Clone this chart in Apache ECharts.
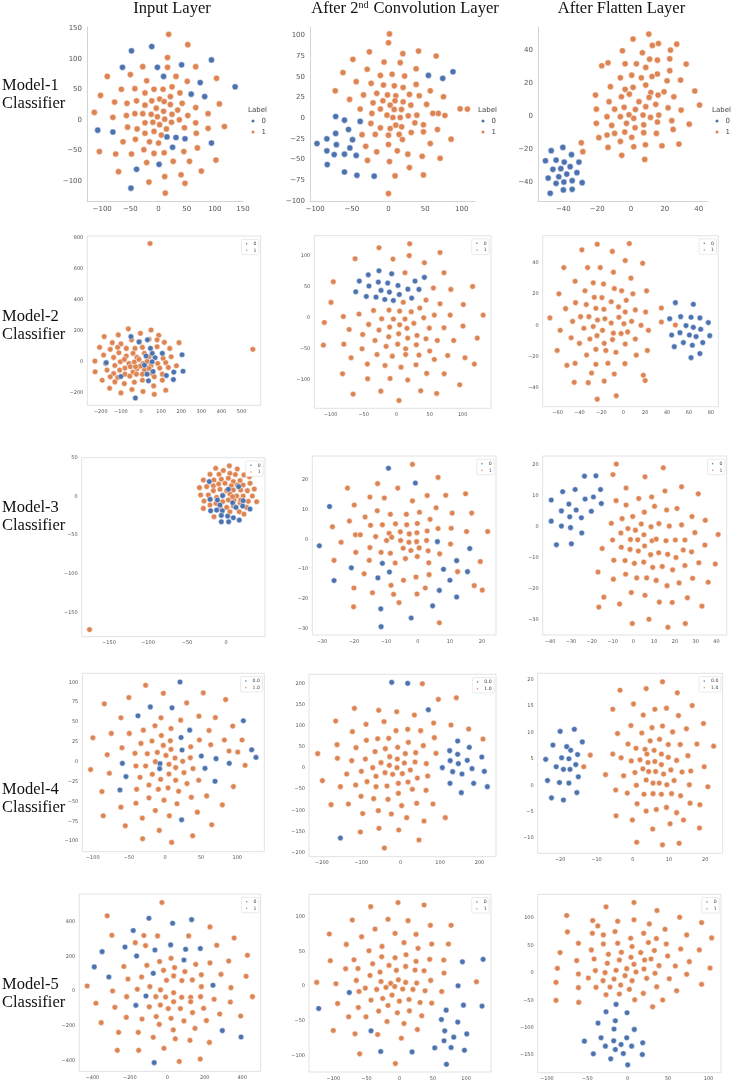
<!DOCTYPE html>
<html><head><meta charset="utf-8">
<script src="https://cdn.jsdelivr.net/npm/echarts@6/dist/echarts.min.js"></script>
<style>html,body{margin:0;padding:0;background:#fff}#c{width:733px;height:1082px}</style>
</head><body><div id="c"></div>
<script>
// ---------- texts ----------
const columnTitles = ['Input Layer', 'After 2{sup|nd} Convolution Layer', 'After Flatten Layer'];
const rowTitles = ['Model-1', 'Model-2', 'Model-3', 'Model-4', 'Model-5'];
const rowSubtitle = 'Classifier';
const legendNamesDefault = ['0', '1'];
const legendNamesModel4 = ['0.0', '1.0'];
const legendTitle = 'Label';

// ---------- tick labels ----------
const m1InX = [-100,-50,0,50,100,150], m1InY = [-100,-50,0,50,100,150];
const m1CvX = [-100,-50,0,50,100], m1CvY = [-100,-75,-50,-25,0,25,50,75,100];
const m1FlX = [-40,-20,0,20,40], m1FlY = [-40,-20,0,20,40];
const m2InX = [-200,-100,0,100,200,300,400,500], m2InY = [-200,0,200,400,600,800];
const m2CvX = [-100,-50,0,50,100], m2CvY = [-100,-50,0,50,100];
const m2FlX = [-60,-40,-20,0,20,40,60,80], m2FlY = [-40,-20,0,20,40];
const m3InX = [-150,-100,-50,0], m3InY = [-150,-100,-50,0,50];
const m3CvX = [-30,-20,-10,0,10,20], m3CvY = [-30,-20,-10,0,10,20];
const m3FlX = [-40,-30,-20,-10,0,10,20,30,40], m3FlY = [-30,-20,-10,0,10,20];
const m4InX = [-100,-50,0,50,100], m4InY = [-100,-75,-50,-25,0,25,50,75,100];
const m4CvX = [-200,-100,0,100,200], m4CvY = [-200,-150,-100,-50,0,50,100,150,200];
const m4FlX = [-20,-10,0,10,20], m4FlY = [-10,-5,0,5,10,15,20];
const m5InX = [-400,-200,0,200,400], m5InY = [-400,-200,0,200,400];
const m5CvX = [-100,-50,0,50,100], m5CvY = [-100,-50,0,50,100];
const m5FlX = [-100,-50,0,50,100], m5FlY = [-150,-100,-50,0,50,100];

// ---------- data (label 0 = blue, label 1 = orange) ----------
const m1InBlue = [[-48,113],[-12,120],[-64,86],[-2,86],[9,71],[41,90],[94,98],[74,61],[58,42],[82,38],[136,54],[-108,-17],[-81,-20],[15,-28],[31,-29],[47,-31],[25,-45],[94,-38],[1,-73],[-39,-81],[-49,-112]];
const m1InOrange = [[18,140],[52,123],[16,102],[-28,87],[66,87],[16,86],[-91,71],[-50,74],[-21,64],[31,71],[51,63],[103,68],[-103,40],[-66,50],[-42,51],[-8,50],[8,50],[24,54],[-24,44],[38,44],[-78,29],[-56,27],[-39,31],[-12,31],[2,34],[10,30],[21,38],[42,27],[66,20],[108,26],[-114,12],[-81,4],[-57,7],[-42,10],[-24,24],[-28,10],[-13,9],[-4,19],[9,14],[21,25],[34,16],[52,7],[-2,5],[11,1],[24,9],[88,10],[-55,-12],[-38,-15],[-24,-5],[-10,-4],[2,-8],[14,-15],[23,-4],[37,0],[46,-13],[66,-5],[88,-14],[117,-11],[-24,-22],[-8,-19],[5,-25],[67,-22],[-63,-36],[-41,-32],[-16,-36],[0,-38],[-105,-52],[-76,-56],[-48,-56],[-26,-49],[-8,-55],[10,-54],[45,-52],[69,-46],[-21,-70],[26,-68],[55,-68],[102,-66],[-71,-85],[40,-90],[76,-84],[-17,-102],[11,-93],[47,-104],[12,-120]];

const m1CvBlue = [[-97.5,-30.6],[-72,2],[-60,-2.4],[-72,-18.5],[-84,-25],[-71,-32],[-54.5,-13.7],[-49,-26],[-38.6,-4],[-84,-39.5],[-74,-44],[-60,-43.5],[-52.6,-36],[-44,-45],[-83.5,-56],[-60,-65],[-43,-69],[54.5,51.6],[74,48],[88,56],[-19.5,-70]];
const m1CvOrange = [[-26,80],[-48.5,71],[-62,55],[-29,59],[-44,44],[-34,28],[-72.6,33],[-53,22.6],[-38.6,11],[-36,-20],[-31,-34],[-28.6,-51],[1.4,101.6],[0,91],[19.6,77.8],[41,81],[65,75],[-6,67.7],[16,67],[37.7,59.6],[-11,51.6],[5,53],[22,50.8],[-23.6,42],[-6.8,40],[8,39],[20,37],[37.7,40.7],[57,33],[75,25.8],[-16,30],[-1.4,28],[10,27],[28.6,28.6],[42,27],[-21,18.5],[-7.6,21],[2.3,15.7],[9,21],[20,19.7],[30.5,15.7],[52,16.6],[68,5.7],[97.7,11.2],[107.6,10.9],[-22.6,5.7],[-11,11],[-2,3.6],[7.8,10.5],[17.7,10.5],[6,0.8],[16,0.8],[27,2.8],[38.7,3.6],[60.5,5.7],[77,3.2],[-24,-6.4],[-11,-11.7],[2.3,-12.5],[10,-8.5],[18,-10.5],[36,-5.7],[47.7,-8],[66.8,-13.7],[-18,-19.7],[0,-20.6],[14.6,-19.7],[31,-17.3],[47.7,-16.5],[85.4,-25.4],[-16,-40.7],[0,-31.8],[12,-39.5],[19,-25.8],[26.4,-43.5],[46,-46],[57,-30.6],[70.4,-48.4],[1.4,-52.4],[28.6,-59.6],[9,-69.7],[47.7,-68.5],[0,-91]];

const m1FlBlue = [[-47.2,-21.2],[-40.3,-19.2],[-50.6,-27.3],[-44.3,-26.9],[-39.5,-28.1],[-35.2,-23.6],[-30.8,-28.1],[-46.2,-32.5],[-41.5,-32.1],[-36,-30.9],[-32,-34.5],[-42.7,-37],[-38,-35.4],[-49,-37.8],[-44.3,-41],[-39.7,-40.2],[-34.8,-39.4],[-28.9,-40.6],[-40,-45],[-34.8,-44.6],[-47.8,-47]];
const m1FlOrange = [[10.5,49.5],[1.2,46.5],[12.6,42.6],[16.2,43.8],[27,43.4],[23.3,39.8],[-5.1,39.4],[6.7,38.2],[15.6,33.7],[11,34.3],[22.9,34.5],[32.6,31.3],[-17.3,30.3],[-13.6,32.1],[-3.5,31.5],[3.2,31.5],[8.7,29.3],[22.9,27.3],[29.3,21.6],[-6.3,23],[0.4,24.6],[6.1,23],[12.4,23.8],[15.6,25.3],[21.3,21.2],[-12.2,17.6],[-3.5,16],[1.2,17.2],[8.7,18.6],[11.7,14.1],[19.5,14.5],[37.7,15],[40.5,6.5],[-21,12.5],[-5.7,11.5],[-1,13.1],[4.7,8.5],[10.7,11.1],[16,12.5],[25.3,11.5],[-20.5,4],[-13,8.5],[-9.7,4],[-4.1,5.1],[2.6,3.8],[8.7,5.5],[14.6,6.9],[21.9,4.8],[29.6,3.4],[-14.2,-0.6],[-6.3,-0.6],[-1.2,0.6],[1.6,-1.6],[7.1,0.4],[11.5,-1],[16.4,0.4],[-20.5,-4.6],[-11.4,-5.9],[-2.7,-4.6],[2.4,-7.3],[7.5,-5.5],[15.6,-3.8],[24.1,-3],[34.4,-5.1],[-19,-13.3],[-14.2,-11.7],[-9.7,-10.7],[-3.7,-9.9],[0.4,-13.1],[7.5,-10.3],[15,-10.7],[24.9,-8.3],[-13.6,-19.2],[-6.3,-15.6],[1.6,-18.8],[8.5,-17.6],[18.3,-18.2],[28.3,-17.2],[-29.4,-16.4],[-28.5,-21.8],[-5.5,-24],[8.1,-26.5]];

const m2InBlue = [[-50,162],[-10,128],[32,141],[47,86],[106,54],[56,54],[25,37],[70,26],[-173,-6],[17,-22],[55,0],[204,45],[209,-61],[163,-67],[126,-89],[30,-80],[161,-115],[37,-123],[-100,-95],[-28,-234],[60,-63]];
const m2InOrange = [[45,763],[556,80],[-63,212],[50,205],[-3,184],[-113,173],[-183,162],[88,171],[-143,123],[-100,115],[-47,141],[-7,130],[40,145],[80,141],[116,125],[189,123],[-206,93],[-153,80],[-116,93],[-73,86],[-30,86],[7,93],[80,97],[143,86],[-186,43],[-136,28],[-110,58],[-73,37],[-40,54],[-20,28],[17,54],[40,32],[110,22],[150,32],[-229,4],[-176,-11],[-130,-24],[-103,0],[-83,15],[-60,-11],[-33,-2],[-10,15],[10,-11],[30,2],[50,-24],[83,-11],[123,-6],[176,-26],[-228,-65],[-169,-54],[-136,-76],[-106,-54],[-80,-41],[-53,-32],[-40,-67],[-20,-45],[-3,-28],[17,-54],[40,-43],[56,-76],[93,-41],[136,-37],[-193,-119],[-153,-97],[-116,-102],[-80,-80],[-56,-93],[-23,-80],[7,-80],[66,-97],[106,-80],[-130,-130],[-83,-141],[-33,-132],[7,-119],[63,-156],[106,-119],[-156,-171],[-100,-201],[-45,-179],[10,-192],[66,-210],[123,-184],[-27,-32]];

const m2CvBlue = [[-26.8,75.6],[-7.6,70.8],[-43,69],[-56.6,59],[-27.8,57.4],[-13.6,55.8],[2,52],[27.8,59],[42,65],[-62,41.8],[-42,51],[-23.7,44],[-11,41.3],[4,37.5],[17,46],[33.8,45.6],[-46,34.3],[-31.3,33.2],[-18,29.5],[-5,27.9],[22.7,31.6]];
const m2CvOrange = [[19.7,119],[-26.8,112.6],[19,100],[65.7,105],[-63,95],[-5.6,94.4],[42,88.5],[12.6,72.4],[71.7,72.4],[-96,58],[55.6,48],[82,45.6],[115,50.4],[-99.5,24.7],[10,25],[44.4,28.4],[65.7,22.5],[101,21.4],[-109.6,-7.5],[-80.8,2],[-57,6],[-35,11.8],[-11.6,12.3],[4.5,10.7],[22,9.7],[35,15.6],[-22.7,-1.6],[-5,-2],[12.6,-2],[41,0],[57,4.3],[81,4.3],[131,4.3],[-72,-18.8],[-42.4,-10.7],[-26.8,-19.8],[-10.6,-15],[4.5,-11.3],[15.6,-17],[26,-9],[49.5,-16.6],[71.7,-16],[100.5,-13.4],[-51.5,-26.8],[-32.8,-36.5],[-12,-30.5],[3,-25.7],[16.7,-32.7],[30.8,-28.4],[44.4,-33.8],[61.6,-36.5],[86.4,-36.5],[122,-32.7],[-111,-44],[-80,-42.4],[-52.5,-50],[-16,-46],[1.5,-42.4],[13.6,-50],[29.8,-43.4],[-29.8,-59],[-6.6,-61.7],[13.6,-59],[33.8,-60],[50,-53.6],[57,-67],[77.3,-60.6],[103.5,-64.3],[-69,-64.3],[-44.4,-74.5],[-17.7,-76.7],[6.6,-79.4],[29.3,-75.6],[117.7,-74.5],[-82,-90],[-44,-98],[-10,-97.6],[16.7,-100],[45.5,-89.5],[72,-90],[95.5,-107.8],[-66,-122.8],[-24,-118],[36.4,-117.4],[60.6,-121.7],[3.5,-133]];

const m2FlBlue = [[47.6,14.4],[64,13.4],[42.4,4.2],[52.4,5.5],[61.9,5.1],[70,4.7],[77.7,1.7],[57.3,-0.2],[64,-1.3],[70.7,-2.5],[44.2,-6.2],[51.8,-4.7],[60.4,-6.2],[66.5,-7.2],[79,-6.6],[46.6,-13.6],[54.9,-11],[63.1,-12.7],[72.6,-11],[61.9,-20.6],[70,-18]];
const m2FlOrange = [[-23.8,51.6],[5.5,52],[-37.8,48],[-10,47],[-54.3,36.7],[-32.6,36.7],[-21,36.7],[1.8,41.2],[17.7,39.5],[-9,33.8],[7,30],[-44,28],[-27.4,27],[-18,26.3],[-35,22],[-8.2,23.4],[-1.5,22],[8.8,20],[21.3,21.9],[-58.8,20],[-26.5,17.8],[-19.5,17.6],[-11,15],[2.7,15.9],[-43.6,14.4],[-33.8,13.2],[-25,10.8],[-17.7,10.2],[-4.3,11.7],[1.8,8.5],[11,9.8],[20.4,8.5],[34.8,11],[-52.7,10.6],[-67,4.7],[-39,5.5],[-31.4,5.5],[-23.5,3.4],[-16.8,4.2],[-11,1.5],[-4,5.1],[0.6,1],[7.6,2.5],[16.2,0],[34.8,2.1],[47.6,0.2],[-46.3,2.5],[-36,-1.9],[-27.4,-0.8],[-19,-3.2],[-9,-5],[-2,-5.3],[4,-4.2],[23,-3.2],[-57.6,-3.2],[-47.6,-8],[-30.5,-8.7],[-24,-6.6],[-17.4,-11.5],[-9.8,-9.1],[1.8,-11.9],[11,-8.7],[-40,-11.5],[-60.4,-16],[-33.5,-18.9],[-25,-15.3],[-15.9,-16],[-6.7,-17.2],[11.9,-19],[22,-16],[-51.5,-25.5],[-44,-24.2],[-25,-24.8],[-14,-24.2],[1.5,-24.4],[-29,-30.4],[-8.2,-31],[18.3,-31.8],[20,-35.2],[-44.8,-36.3],[-32,-36.5],[-17.4,-35.5],[-6.4,-44.8],[-23.8,-47]];

const m3InBlue = [[-21.4,19.6],[16.2,13],[3,9.6],[-4.3,1.3],[-20.5,-3.5],[-11,-4.3],[22,-5.2],[8.5,-7.8],[-7.7,-10.9],[12.8,-13.9],[30.8,-16],[-19.7,-18.3],[-12,-17.4],[-4.7,-18.3],[21.4,-12.2],[2.1,-25.2],[9.4,-27.4],[-6,-24.3],[17,-30.4],[-6,-32.6],[3.4,-32.6]];
const m3InOrange = [[-175,-172.6],[4.3,40],[14.5,36],[-13.2,37],[-3.4,34],[23,28.3],[30,26],[-20.5,29],[-9,29],[5,30.4],[12,28.7],[-29,21.7],[-15.4,21.7],[-6,22.6],[3,24],[9.4,19.6],[18,20.9],[30.8,17.4],[-34,11.7],[-24.8,13],[-16.2,14],[-9.4,16.5],[-1.3,17.4],[6.8,14],[14.5,15.2],[22,15.2],[36.3,10],[-32.5,2.2],[-22.6,2.2],[-16.2,7.8],[-7.7,9.6],[0.9,7.8],[9.4,8.7],[18.8,8.7],[27.4,7.8],[33.8,0.9],[-28.2,-5.7],[-19.7,-3.5],[-12,-0.9],[-4.3,2.2],[5,3.5],[13.7,0.9],[22,0.9],[39.3,-6.5],[-20.5,-10.9],[-12.8,-8.7],[-4.3,-6.5],[3,-4.3],[10.3,-4.3],[18,-7.8],[28.6,-6.1],[-29,-15.2],[-7.7,-13.9],[0.9,-13.9],[9.4,-12.2],[26.5,-13.9],[-15.4,-26],[5,-19.6],[17,-19.6],[23,-22.6],[8.5,0],[18.8,-4.3]];

const m3CvBlue = [[-9.2,23.9],[-0.8,18.9],[-27.6,11],[-30.8,-2.2],[6.1,-0.8],[16.2,-3.1],[12.1,-7.2],[15.5,-10.9],[8,-10.1],[10,-13.8],[-11.1,-8.1],[-8.9,-11],[-20.8,-9.6],[-26.2,-13.9],[-12.5,-13],[6.7,-17.2],[12.1,-19.4],[4.6,-22.4],[-11.6,-23.4],[-2.1,-26.5],[-11.5,-29.4]];
const m3CvOrange = [[-1.7,25.2],[6.3,20.8],[-22,17.2],[-12.6,18.7],[-6.3,17.2],[2.9,14.7],[8.7,14.8],[14.9,15.3],[-15,14.2],[-10.5,13.9],[-1.7,12.9],[-19.9,11.5],[5.7,10.6],[10.7,8.8],[16.8,8.8],[-16.5,7.5],[-12.7,9.6],[-8.6,8.4],[-3.6,8.4],[0.5,9.1],[3.8,6.7],[-21.4,6.1],[-26.7,4.2],[-14.8,4.7],[-11.1,4.9],[-7,5.2],[-3.5,4.9],[-0.2,5.3],[2.9,2.8],[6.3,3.6],[10.4,3.7],[15.2,2.6],[21.8,2.6],[-19.5,1.5],[-18,1.5],[-13.2,0.9],[-9,2],[-5.5,2.5],[-2.7,1.8],[-0.3,2.2],[-24,-1],[-9.8,-0.4],[-8.2,0.7],[-5.4,-0.4],[-2.8,-1],[-0.4,-0.8],[2.7,-0.4],[10.2,-1.6],[-19.4,-4.4],[-15,-2.8],[-11.5,-4.4],[-8.6,-4.7],[-4.6,-3],[-2.2,-3.8],[0.4,-2.9],[3.2,-3.9],[6.8,-4.9],[-26.2,-7.1],[-15.2,-7.1],[-7.1,-8],[-3.9,-6.5],[-0.2,-5.8],[3.4,-7.9],[19.5,-7.5],[-16.8,-11.6],[-4.5,-13.8],[-0.6,-12.7],[3.5,-11.9],[12.4,-10.9],[-8.4,-15.5],[-20,-16.4],[-14.2,-18],[-7.6,-18.5],[-0.3,-18.4],[2.3,-16.4],[17.6,-15.6],[20.1,-17.1],[-20.1,-22.7],[-5.9,-21.3],[6.7,-28.1]];

const m3FlBlue = [[-39.5,8.6],[-34,11.3],[-28,12],[-23.5,16.3],[-18,16.4],[-15.8,12],[-19.2,9.6],[-23.2,8.9],[-31,7.3],[-34.6,5.1],[-27.5,5.4],[-20.2,5],[-15.4,7.5],[-39.5,1.8],[-30.6,3.2],[-25,2.9],[-34.6,0.2],[-30.2,-0.3],[-24.8,-2],[-37,-5.8],[-29.8,-5.5]];
const m3FlOrange = [[-8.2,20.2],[14.4,19],[-9.8,16.8],[5.6,16.1],[-3.5,12.5],[15.2,11.5],[23.2,12.9],[31.2,10.6],[-8.3,8.4],[2.6,9.1],[8.8,9.6],[-3.5,7],[5.3,4.7],[10.2,6.6],[16,5.4],[21,5.9],[28.2,3.3],[34.6,2.1],[-5.4,2.6],[-0.3,3.3],[-10.6,1.1],[3.8,0.9],[8.5,0],[12.3,1],[17.3,0.2],[23.2,0.6],[-2.6,-0.6],[1,-1.1],[-6,-2],[5.1,-2.6],[29.6,-1.9],[40.8,-2.5],[-10,-4.3],[-1.4,-4.1],[2.1,-4.2],[9,-4.5],[11,-4],[15.7,-4.5],[20.2,-4.3],[24.8,-4.3],[-15,-7],[-5.8,-6.6],[-1.6,-7.3],[2.4,-7.8],[5.4,-6.2],[8.3,-9],[12.2,-8.4],[16.5,-8.9],[20.5,-9.9],[24,-7.5],[28,-8.1],[34.4,-5.9],[-9.4,-10.8],[-4,-10.9],[0.5,-11.8],[5,-11.4],[9.3,-13.1],[13.9,-12.8],[18.9,-13.9],[24.8,-12.5],[31.5,-11.6],[39.4,-12],[-17,-14.6],[-9.6,-16.9],[-3.7,-15.3],[1.6,-16.5],[6.4,-16.5],[11,-17.3],[16.2,-19],[22,-18.1],[28.5,-16.6],[36,-17.9],[-14.2,-22.7],[-16.6,-25.9],[-6.6,-24.9],[-1,-21.2],[5.6,-22.1],[12.5,-24.3],[18.7,-24.4],[26,-22.9],[33,-25.6],[-0.5,-31.2],[7.5,-29.8],[16.6,-32.4],[25,-31.2]];

const m4InBlue = [[20.8,100.4],[-20.3,69],[9.7,67.8],[-37.4,57.7],[108.5,51.5],[34.2,39.7],[22.2,30.5],[23.6,14.6],[120,15],[126,5.4],[50.3,7.1],[70.7,3.8],[-59,-2.1],[-6.9,-2.5],[-7.4,-8.8],[89,-2.1],[55.4,-8.4],[-54,-18.8],[69.3,-24.7],[-62.4,-35.6],[23,-73.2]];
const m4InOrange = [[-26.8,96.2],[-2.3,86.2],[53,86.6],[-50,80.8],[30,74],[84,78.2],[-84,72.8],[-5.5,55.2],[-61,55.2],[21.7,52.3],[47,57.3],[69.7,55.6],[93.8,44.8],[-30,39.7],[-13.9,45.2],[8.3,41.8],[-49.4,35.6],[-74.4,35.6],[61,39.3],[-99.8,30.1],[-33.3,23],[-18,26],[-5,33],[7.4,26.4],[47.6,27.2],[82.2,27.2],[106.7,27.2],[-59.6,17.6],[-2.3,20.5],[8.3,15.5],[35.6,18.8],[63.3,21.3],[88.7,13.4],[100.7,12.1],[-80,8.8],[-41.6,10.5],[-24.5,10],[-10.6,11.7],[1.4,7.9],[13.9,4.6],[24.5,0.4],[35.1,5],[-13.4,0],[-40.2,-5.4],[-26.8,-5.4],[5.5,-3.3],[14.8,-7.5],[26.3,-13.8],[38.8,-8.8],[110.9,-4.6],[-103,-10],[-77,-14.6],[-34.6,-19.7],[-17.6,-15.9],[-6,-22.2],[5.5,-15.5],[14.8,-23.4],[30.5,-27.6],[46.7,-23.4],[-39.3,-34.7],[-22.2,-29.3],[-9.2,-34.7],[4.2,-33],[18.9,-37.2],[57.7,-43.1],[94.7,-31.4],[-87.3,-37.7],[-40.2,-52.3],[-22.2,-45.6],[-1.4,-48.5],[16.6,-53.1],[36.5,-44.8],[-61,-57.3],[79.4,-54.4],[-13.4,-61.5],[44.8,-63.6],[-85.5,-68.2],[-31.4,-71.1],[6,-68.2],[-55,-80.8],[64.7,-79.5],[-7.9,-86.6],[38.3,-93.3],[-31,-97],[9.2,-101.7]];

const m4CvBlue = [[-22.8,202.8],[17.8,200.4],[70.2,138],[144.6,63.9],[124.3,41],[174.2,48.9],[144.6,32.3],[125.6,17.4],[169,18.1],[205.9,26],[146.3,10.3],[105.7,0.8],[181,-1.6],[131.9,-8.7],[155.6,-14.2],[212.3,-7.9],[125.2,-36.3],[185.2,-36.3],[219.9,-44.2],[153.9,-58.4],[-153,-165.7]];
const m4CvOrange = [[55,199.6],[95.6,162.5],[141.2,166.4],[-117.5,141.2],[-55.8,136.5],[-10.1,133.3],[34.7,125.4],[-165,111.2],[-42.3,109.7],[83.7,106.5],[-122.6,86],[-88,103.4],[-11.8,88.4],[17.8,91.5],[50.7,88.4],[127.7,101.8],[172.5,92.3],[-161.5,55.2],[-113.3,48.1],[-87.1,65.5],[-58.4,69.4],[-30.4,70.2],[19.5,60.7],[57.5,52.9],[85.4,71.8],[208.9,68.6],[-210.6,33.9],[-160.6,22.9],[-124.3,17.4],[-89.6,21.3],[-65.1,38.7],[-38.9,45.8],[-7.6,48.9],[11.8,33.9],[38.1,36.3],[89.7,34.7],[-27.9,26.8],[-8.5,21.3],[9.3,11.8],[36.4,14.2],[65.1,10.3],[-71,0.8],[-49.9,12.6],[-28.8,6.3],[-9.3,0.8],[24.5,-4.7],[-137,-14.2],[-99.8,-7.9],[-62.6,-19.7],[-39.7,-11],[-20.3,-15],[4.2,-13.4],[42.3,-23.7],[68.5,-18.9],[-198.7,-30],[-153,-44.2],[-114.2,-40.2],[-85.4,-32.3],[-62.6,-44.2],[-34.7,-42.6],[-5.9,-36.3],[18.6,-33.1],[29.6,-50.5],[64.3,-52.9],[-5.9,-60],[-176.7,-86.8],[-132.8,-85.2],[-100.6,-67.1],[-68.5,-72.6],[-32.1,-74.2],[2.5,-89.2],[40.6,-83.6],[82,-85.2],[-96.4,-108],[-56.7,-101],[-23.7,-108.9],[15.2,-117.6],[59.2,-125.4],[113.3,-117.6],[-102.3,-151.5],[-55,-142.8],[-5,-146.7],[46.5,-170.4],[-41.4,-189.3]];

const m4FlBlue = [[-20,10.2],[-16.1,10.6],[-22,7.6],[-18.2,7.3],[-17.1,6.6],[-13.9,8.2],[-15.2,5.8],[-24,4.9],[-19.6,5.2],[-17.6,5],[-21.1,3.5],[-19.1,3],[-17.3,3],[-15.7,3.9],[-15,1.6],[-23.5,0.9],[-20.2,0.5],[-17.6,0.4],[-15.4,-1.4],[-22.4,-2.4],[-19.1,-2.8]];
const m4FlOrange = [[8.2,19.6],[-3.5,18],[3.7,18.3],[12.3,17.5],[0.2,15.4],[-5.5,14.4],[6.1,14.4],[9.3,14.6],[16.4,15.1],[2.9,13.3],[12.6,13.2],[19.5,11.7],[-0.5,11.3],[5.3,10.9],[8.2,11.2],[-4.2,9.8],[2.5,9.9],[11,10.1],[14.8,10.7],[-1.3,7.8],[4.8,8.4],[7.4,8.7],[9.8,7.7],[13.1,7.7],[17.7,7.8],[22.3,7.4],[0.9,7],[3.4,6.8],[5.9,6.6],[-11.7,5.7],[-5.5,5.9],[-3.2,5.2],[3.9,5.9],[7.9,5.9],[9.8,5.3],[15.2,5.6],[-13.5,3.5],[-0.4,4.6],[2,4.8],[4.2,4.3],[6.1,4.5],[7.9,3.9],[12.1,4.7],[19.7,3.5],[2.8,3.1],[4.4,2.6],[6.3,2.6],[8.5,2.1],[10.5,2.9],[13.6,2.5],[16,2.7],[-7.5,2],[-2.5,1.8],[0.6,2.4],[3.7,1],[5.6,0.4],[7.3,0.4],[9.4,0.1],[11.4,0.9],[15.6,0.1],[20.7,-0.3],[-4.7,-0.9],[-1.5,-1.5],[1,0],[3.1,-1.7],[5.6,-1.6],[7.9,-1.7],[10.7,-1.6],[13.2,-2],[1.2,-3.5],[3.7,-4.9],[6.5,-4.6],[9.3,-4.2],[12.1,-5.2],[15.8,-3.4],[18.5,-3.7],[-4.6,-5.8],[-0.1,-6.6],[14,-6.6],[5.5,-8.3],[10.3,-7.3],[18.4,-8.1],[1.1,-10.8],[8.2,-11.3],[12.8,-11]];

const m5InBlue = [[-98,420],[28.5,391],[130,412],[-182,349],[-348,227],[-226,254],[-66,237],[17.8,266],[98,241],[176.5,245],[-164,202],[89,179],[-390,139],[-312,81],[-75,102],[244,33],[-114,-29],[-168,-83],[294,-229],[394,-266],[-70,-414]];
const m5InOrange = [[-28.5,511],[-321,434],[-296,322],[-125,320],[-52,318],[114,318],[228,370],[357,306],[-171,279],[-116,262],[264,264],[-232,141],[-109,148],[-41,170],[20,189],[152,154],[228,162],[328,173],[428,206],[-210,69],[-137,81],[-20,119],[39,135],[94,112],[182,94],[287,96],[421,85],[-428,29],[-292,0],[-160,10],[-93,25],[-36,6],[-4,62],[34,87],[78,60],[134,64],[182,25],[340,19],[-381,-71],[-217,-33],[-61,-33],[-9,-35],[34,-10],[77,-37],[125,-37],[178,-33],[250,-48],[337,-64],[455,-33],[-280,-94],[-96,-91],[-37,-81],[5,-102],[34,-62],[70,-102],[125,-62],[194,-100],[280,-133],[392,-145],[-219,-152],[-135,-162],[-59,-148],[-43,-193],[20,-158],[89,-173],[135,-125],[209,-171],[-353,-183],[-260,-239],[-155,-239],[32,-225],[148,-216],[-75,-268],[43,-276],[121,-285],[225,-297],[-18,-331],[-267,-343],[-153,-343],[64,-407],[176,-393]];

const m5CvBlue = [[125.6,38.6],[94.5,35.2],[87.9,0.5],[-75.9,-9.2],[-122,-32.3],[124,-28.9],[96,-27.5],[70,-34.7],[62.8,-48.2],[87.4,-52],[67.8,-64.6],[101,-69],[81.4,-73.7],[66.8,-79],[-43.2,-64.6],[52.8,-89.2],[77.4,-88.7],[97.5,-92.5],[-28.6,-94.5],[18.6,-95],[70.4,-112.8]];
const m5CvOrange = [[-2.5,120.5],[36.7,117.1],[-43.7,114.7],[-71.4,95.4],[-17.6,96.4],[12.6,94.5],[46.2,87.7],[77.4,87.7],[-106,75.2],[-37.2,82.4],[-7,76.1],[24.6,74.7],[-57.3,71.3],[-80.4,60.2],[-26.6,57.3],[6.5,62.7],[27.6,54.5],[48.2,60.7],[73.4,60.7],[-104.5,36.6],[-68.8,38.1],[-46.2,51.1],[-27.1,42.4],[-7,41],[9.5,45.3],[24.6,35.7],[45.2,38.6],[66.3,37.6],[-81.4,25.1],[-62.8,25.5],[-40.7,32.3],[-29.6,20.2],[-16.1,29.9],[-5,22.7],[9,28.4],[23.1,23.1],[36.7,22.2],[66.8,18.8],[-65.3,8.2],[-44.7,15.4],[-28.1,6.7],[-13.6,3.9],[-2,9.2],[9,5.3],[25.6,4.3],[46.7,8.2],[115.6,6.3],[-125,5.3],[-96,3.4],[-51.8,-2.9],[-34.7,-4.8],[-20.6,-1.9],[-7.5,-0.5],[4.5,-4.3],[20,-4.8],[38.2,-6.7],[63.3,-7.7],[-93.5,-25.1],[-61.3,-7.7],[-43.2,-20.2],[-25.6,-17.8],[-11.6,-13],[-0.5,-21.7],[14,-19.3],[30.7,-23.6],[48.2,-24.6],[-62.3,-30.8],[-31.7,-36.1],[-17.6,-28],[-3.5,-38.6],[14.6,-35.7],[33.2,-42.9],[-76.9,-44.3],[-50.8,-44.3],[-100,-64.1],[-67.3,-68.9],[-19.1,-51.1],[6.5,-54],[26.6,-62.7],[-33.2,-69.9],[2.5,-75.2],[-60.3,-97.8],[-6.5,-111.8]];

const m5FlBlue = [[-14.4,-57.3],[-26.8,-70.7],[-0.8,-72.6],[-36.7,-91.5],[-15.3,-87.2],[-16.9,-102.4],[8.2,-103],[-53.6,-124.4],[-33,-118.3],[-17.3,-123.8],[-1.2,-118.3],[-8.2,-130.5],[-27.6,-133.5],[-15.3,-139.6],[4.9,-133.5],[18.6,-127.4],[-42.5,-147.6],[-5.4,-147],[18.1,-148.8],[-21,-156.7],[0,-167.7]];
const m5FlOrange = [[7.8,128.7],[-26.8,120.7],[36.3,114],[-75.5,104.9],[64.3,101.8],[-43.3,95.7],[-12.4,94.5],[7.8,97],[91.5,92],[-37,85.9],[26.8,89.6],[-74.6,75],[-43.7,72.6],[-30.1,69.5],[-15.7,75.6],[19.8,72.6],[46.2,79.9],[73,69.5],[-61,54.3],[-30.1,53],[-12.4,54.3],[3.7,63.4],[25.6,55.5],[35.5,62.8],[47.8,53],[103.9,64],[-83.7,37.2],[-45,42.1],[-23.9,34.1],[-7.8,37.8],[5.4,48.2],[16.1,37.2],[33,40.9],[49.5,31.1],[65.6,43.9],[88.7,42.1],[-63.1,22.6],[-41.6,25.6],[-25.2,17.7],[-10.3,23.8],[4.1,28.7],[21,23.8],[28.9,25.6],[38.8,13.4],[59,12.8],[76.3,20.7],[-87,8.5],[-61,-1.8],[-40,4.3],[-28,0.6],[-14.4,4.9],[-1.2,7.9],[7.8,15.9],[10.3,1.8],[20.2,7.3],[33.8,-0.6],[73,-2.4],[101.9,9.1],[-48.7,-9.1],[-30.5,-14],[-16.9,-11],[-3.3,-4.9],[5.4,-14],[23.5,-9.8],[51.5,-10.4],[-88.7,-17.1],[-61,-26.8],[-39.2,-26.2],[-21.9,-25.6],[-8.7,-22],[2.1,-29.9],[19.4,-37.2],[35.9,-25],[60.6,-32.3],[91.5,-20.7],[-88.7,-50],[-60.6,-53.7],[-26.8,-39.6],[-10.3,-38.4],[8.7,-48.8],[30.9,-61.6],[43.3,-49.4]];

// ---------- panel layout (pixel boxes, axis ranges) ----------
const panels = [
  {row:0, box:[87,27,156,174],     xr:[-127,150],    yr:[-133,152],    xt:m1InX, yt:m1InY, b:m1InBlue, o:m1InOrange, lab:248},
  {row:0, box:[310,27,165,174],    xr:[-107,118],    yr:[-100,110],    xt:m1CvX, yt:m1CvY, b:m1CvBlue, o:m1CvOrange, lab:478},
  {row:0, box:[538,27,170,174],    xr:[-55,45.5],    yr:[-51.7,53.8],  xt:m1FlX, yt:m1FlY, b:m1FlBlue, o:m1FlOrange, lab:712},
  {row:1, box:[87.3,236,173.4,169.3],  xr:[-267,595],  yr:[-281,811],  xt:m2InX, yt:m2InY, b:m2InBlue, o:m2InOrange},
  {row:1, box:[314.3,235.7,176.7,172.6], xr:[-124.8,142.9], yr:[-145.6,132], xt:m2CvX, yt:m2CvY, b:m2CvBlue, o:m2CvOrange},
  {row:1, box:[542.7,235.7,175.6,171], xr:[-73.6,86.8], yr:[-51.8,57],  xt:m2FlX, yt:m2FlY, b:m2FlBlue, o:m2FlOrange},
  {row:2, box:[81.7,457.7,183.3,179],  xr:[-185,50],    yr:[-181.8,50.6], xt:m3InX, yt:m3InY, b:m3InBlue, o:m3InOrange},
  {row:2, box:[312.3,456,183.7,179],   xr:[-33,24.4],   yr:[-32.2,28],  xt:m3CvX, yt:m3CvY, b:m3CvBlue, o:m3CvOrange},
  {row:2, box:[542.7,456,184,179],     xr:[-43.6,44.9], yr:[-34.9,22.8], xt:m3FlX, yt:m3FlY, b:m3FlBlue, o:m3FlOrange},
  {row:3, box:[82.3,673.3,182,178.4],  xr:[-114.5,137.5], yr:[-113.4,111.3], xt:m4InX, yt:m4InY, b:m4InBlue, o:m4InOrange},
  {row:3, box:[309,674.3,187,182.4],   xr:[-232.7,241.9], yr:[-210,221.8], xt:m4CvX, yt:m4CvY, b:m4CvBlue, o:m4CvOrange},
  {row:3, box:[537.7,673.3,185,180],   xr:[-26.2,24.8], yr:[-12.9,21.2], xt:m4FlX, yt:m4FlY, b:m4FlBlue, o:m4FlOrange},
  {row:4, box:[79.3,894,181.4,177.3],  xr:[-470,499],   yr:[-464,560],  xt:m5InX, yt:m5InY, b:m5InBlue, o:m5InOrange},
  {row:4, box:[309,894.3,182,177.7],   xr:[-136.6,137.5], yr:[-124,132.5], xt:m5CvX, yt:m5CvY, b:m5CvBlue, o:m5CvOrange},
  {row:4, box:[537.7,894.3,183.3,178.4], xr:[-111.4,115.5], yr:[-182,143.6], xt:m5FlX, yt:m5FlY, b:m5FlBlue, o:m5FlOrange}
];
const rowCenters = [95, 326, 517, 798.5, 994];
const colCenters = [172, 405, 621.5];

const BLUE = '#4C72B0', ORANGE = '#DD8452';
const fmt = v => (v < 0 ? '\u2212' + Math.abs(v) : String(v));

const grid = [], xAxis = [], yAxis = [], series = [], legend = [], graphic = [];
panels.forEach((p, i) => {
  const first = p.row === 0;
  const names = p.row === 3 ? legendNamesModel4 : legendNamesDefault;
  grid.push({left:p.box[0], top:p.box[1], width:p.box[2], height:p.box[3],
    show:!first, borderColor:'#e2e2e2', borderWidth:1, backgroundColor:'#fff',
    containLabel:false, outerBoundsMode:'none'});
  const lab = {fontSize: first ? 7 : 5, color:'#555', margin: first ? 5 : 4, formatter: fmt,
    fontFamily:'DejaVu Sans', showMinLabel:true, showMaxLabel:true};
  const line = {show:first, onZero:false, lineStyle:{color:'#d4d4d4', width:1}};
  xAxis.push({type:'value', gridIndex:i, min:p.xr[0], max:p.xr[1], axisLine:line,
    axisTick:{show:false}, splitLine:{show:false}, axisLabel:Object.assign({customValues:p.xt}, lab)});
  yAxis.push({type:'value', gridIndex:i, min:p.yr[0], max:p.yr[1], axisLine:line,
    axisTick:{show:false}, splitLine:{show:false}, axisLabel:Object.assign({customValues:p.yt}, lab)});
  const sz = first ? 6.2 : 5.6;
  series.push({type:'scatter', name:names[1], xAxisIndex:i, yAxisIndex:i, data:p.o, symbolSize:sz,
    itemStyle:{color:ORANGE, borderColor:'#fff', borderWidth:0.5, opacity:1}, emphasis:{disabled:true}, silent:true});
  series.push({type:'scatter', name:names[0], xAxisIndex:i, yAxisIndex:i, data:p.b, symbolSize:sz,
    itemStyle:{color:BLUE, borderColor:'#fff', borderWidth:0.5, opacity:1}, emphasis:{disabled:true}, silent:true});
  if (first) {
    legend.push({data:names, orient:'vertical', left:p.lab + 1.5, top:117.5, itemWidth:5, itemHeight:5,
      itemGap:4, icon:'circle', selectedMode:false, padding:0,
      textStyle:{fontSize:7, color:'#444', fontFamily:'DejaVu Sans', padding:[0,0,0,1]}});
    graphic.push({type:'text', left:p.lab, top:107, style:{text:legendTitle, fontSize:7, fill:'#444', fontFamily:'DejaVu Sans'}});
  } else {
    legend.push({data:names, orient:'vertical', right:733 - (p.box[0] + p.box[2] - 1.8), top:p.box[1] + 3.3,
      itemWidth:3.5, itemHeight:3.5, itemGap:1.2, icon:'circle', selectedMode:false,
      padding:[1.6,2.6,1.6,2.4], borderColor:'#dcdcdc', borderWidth:0.6, borderRadius:1, backgroundColor:'#fff',
      textStyle:{fontSize:4.6, color:'#444', fontFamily:'DejaVu Sans', lineHeight:5}});
  }
});

colCenters.forEach((cx, k) => {
  graphic.push({type:'text', x:cx, y:9, style:{text:columnTitles[k], fontFamily:'Liberation Serif', fontSize:16.5,
    fill:'#111', align:'center', verticalAlign:'middle',
    rich:{sup:{fontSize:10, fontFamily:'Liberation Serif', fill:'#111', verticalAlign:'top', padding:[0,1,6,0]}}}});
});
rowCenters.forEach((cy, k) => {
  graphic.push({type:'text', x:2, y:cy - 9, style:{text:rowTitles[k], fontFamily:'Liberation Serif', fontSize:16.5,
    fill:'#111', align:'left', verticalAlign:'middle'}});
  graphic.push({type:'text', x:2, y:cy + 9, style:{text:rowSubtitle, fontFamily:'Liberation Serif', fontSize:16.5,
    fill:'#111', align:'left', verticalAlign:'middle'}});
});

const chart = echarts.init(document.getElementById('c'), null, {renderer:'canvas'});
chart.setOption({animation:false, backgroundColor:'#fff', grid, xAxis, yAxis, series, legend, graphic});
</script></body></html>
